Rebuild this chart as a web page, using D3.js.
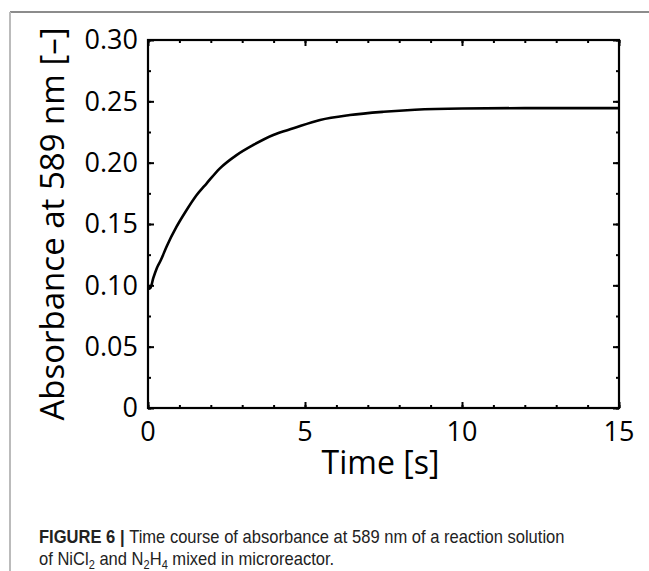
<!DOCTYPE html>
<html>
<head>
<meta charset="utf-8">
<script src="https://cdn.jsdelivr.net/npm/d3@7"></script>
<style>
  body { margin: 0; background: #fff; }
  svg { display: block; }
</style>
</head>
<body>
<svg id="chart" width="649" height="571"></svg>
<script>
// time [s] and absorbance
const time = [0, 0.08, 0.17, 0.28, 0.41, 0.59, 0.91, 1.23, 1.55, 1.87, 2.29, 2.82, 3.35, 3.99, 4.63, 5.48, 6.43, 7.5, 8.5, 10, 12, 15]
const absorbance = [0.097, 0.098, 0.106, 0.114, 0.1206, 0.1315, 0.1478, 0.1614, 0.1736, 0.1832, 0.1954, 0.2062, 0.2144, 0.2226, 0.228, 0.2348, 0.2388, 0.2415, 0.2432, 0.2442, 0.2445, 0.2445]

const xMajor = [0, 5, 10, 15]
const xMinor = d3.range(0, 16, 1)
const yMajor = [0, 0.05, 0.10, 0.15, 0.20, 0.25, 0.30]
const yMinor = d3.range(0, 0.3001, 0.025)

const svg = d3.select('#chart')
const margin = {left: 148, right: 30, top: 40, bottom: 163}
const w = 649 - margin.left - margin.right
const h = 571 - margin.top - margin.bottom

// page frame lines
svg.append('line')
    .attr('x1', 10).attr('x2', 649).attr('y1', 12).attr('y2', 12)
    .attr('stroke', '#666').attr('stroke-width', 1.5)
svg.append('line')
    .attr('x1', 10).attr('x2', 10).attr('y1', 12).attr('y2', 571)
    .attr('stroke', '#bbb').attr('stroke-width', 2)

const g = svg.append('g').attr('transform', `translate(${margin.left},${margin.top})`)

const x = d3.scaleLinear().domain([0, 15]).range([0, w])
const y = d3.scaleLinear().domain([0, 0.30]).range([h, 0])

const font = '"Open Sans", sans-serif'

function ticks(axis, vals, size) {
    return axis.tickValues(vals).tickSize(size).tickFormat('')
}

function styleAxis(sel) {
    sel.select('.domain').remove()
    sel.selectAll('line').attr('stroke', '#000').attr('stroke-width', 2)
}

// inward minor and major ticks on all four sides
g.append('g').attr('transform', `translate(0,${h})`).call(ticks(d3.axisTop(x), xMinor, 3)).call(styleAxis)
g.append('g').attr('transform', `translate(0,${h})`).call(ticks(d3.axisTop(x), xMajor, 6)).call(styleAxis)
g.append('g').call(ticks(d3.axisBottom(x), xMinor, 3)).call(styleAxis)
g.append('g').call(ticks(d3.axisBottom(x), xMajor, 6)).call(styleAxis)
g.append('g').call(ticks(d3.axisRight(y), yMinor, 3)).call(styleAxis)
g.append('g').call(ticks(d3.axisRight(y), yMajor, 6)).call(styleAxis)
g.append('g').attr('transform', `translate(${w},0)`).call(ticks(d3.axisLeft(y), yMinor, 3)).call(styleAxis)
g.append('g').attr('transform', `translate(${w},0)`).call(ticks(d3.axisLeft(y), yMajor, 6)).call(styleAxis)

// frame
g.append('rect')
    .attr('width', w).attr('height', h)
    .attr('fill', 'none').attr('stroke', '#000').attr('stroke-width', 2.2)

// tick labels
g.selectAll('.xlab').data(xMajor).join('text')
    .attr('x', d => x(d)).attr('y', h + 33)
    .attr('text-anchor', 'middle')
    .style('font-family', font).style('font-size', '27px')
    .text(d => d)

g.selectAll('.ylab').data(yMajor).join('text')
    .attr('x', -10).attr('y', d => y(d))
    .attr('dy', '0.35em')
    .attr('text-anchor', 'end')
    .style('font-family', font).style('font-size', '27px')
    .text(d => d === 0 ? '0' : d3.format('.2f')(d))

// axis titles
g.append('text')
    .attr('x', w / 2 - 3).attr('y', h + 66)
    .attr('text-anchor', 'middle')
    .style('font-family', font).style('font-size', '32px')
    .text('Time [s]')

g.append('text')
    .attr('transform', `translate(${64 - margin.left},${h / 2}) rotate(-90)`)
    .attr('text-anchor', 'middle')
    .style('font-family', font).style('font-size', '33px')
    .text('Absorbance at 589 nm [–]')

// curve
const data = time.map((t, i) => ({t: t, a: absorbance[i]}))
g.append('path')
    .datum(data)
    .attr('fill', 'none').attr('stroke', '#000').attr('stroke-width', 2.6)
    .attr('d', d3.line().x(d => x(d.t)).y(d => y(d.a)).curve(d3.curveMonotoneX))

// caption, squeezed to look like a condensed face
const capFont = '"Liberation Sans Narrow", "Liberation Sans", sans-serif'
const cap = svg.append('g').attr('transform', 'translate(39,0) scale(0.92,1)')
const cap1 = cap.append('text')
    .attr('x', 0).attr('y', 543)
    .style('font-family', capFont).style('font-size', '18px').attr('fill', '#222')
cap1.append('tspan').style('font-weight', 'bold').text('FIGURE 6 | ')
cap1.append('tspan').text('Time course of absorbance at 589 nm of a reaction solution')

const cap2 = cap.append('text')
    .attr('x', 0).attr('y', 565)
    .style('font-family', capFont).style('font-size', '18px').attr('fill', '#222')
cap2.append('tspan').text('of NiCl')
cap2.append('tspan').attr('dy', 4).style('font-size', '12px').text('2')
cap2.append('tspan').attr('dy', -4).text(' and N')
cap2.append('tspan').attr('dy', 4).style('font-size', '12px').text('2')
cap2.append('tspan').attr('dy', -4).text('H')
cap2.append('tspan').attr('dy', 4).style('font-size', '12px').text('4')
cap2.append('tspan').attr('dy', -4).text(' mixed in microreactor.')
</script>
</body>
</html>
